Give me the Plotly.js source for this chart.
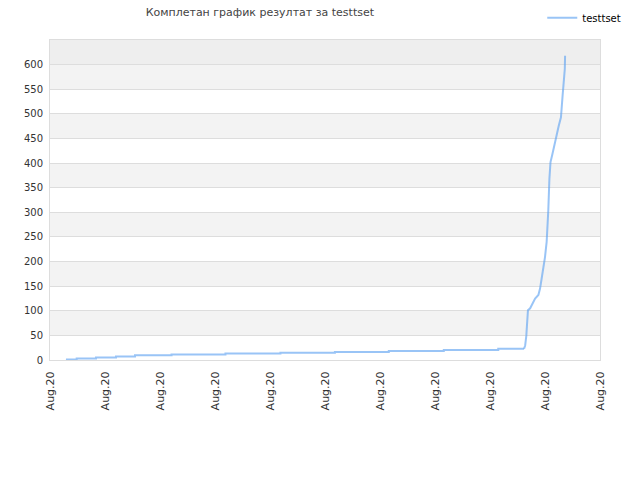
<!DOCTYPE html>
<html>
<head>
<meta charset="utf-8">
<script src="https://cdn.plot.ly/plotly-3.0.1.min.js"></script>
<style>html,body{margin:0;padding:0;background:#fff}#chart{width:640px;height:480px}</style>
</head>
<body>
<div id="chart"></div>
<script>
const seriesName = 'testtset';
const chartTitle = 'Комплетан график резултат за testtset';
const tickLabel = 'Aug.20';
const tickPositions = [0, 10, 20, 30, 40, 50, 60, 70, 80, 90, 100];
const yTicks = [0, 50, 100, 150, 200, 250, 300, 350, 400, 450, 500, 550, 600];

// slow stepwise part
const stepTime = [2.9, 4.85, 8.36, 12, 15.45, 22.1, 31.9, 41.9, 51.8, 61.6, 71.6, 81.5, 86.2];
const stepScore = [1, 3, 5, 7, 9.5, 11, 13, 14.7, 16.5, 18.5, 20.5, 23, 23];
// steep final part
const riseTime = [86.2, 86.4, 86.6, 86.8, 86.9, 87.3, 87.8, 88.2, 88.8, 89.1, 89.4, 89.7, 90.0,
  90.3, 90.5, 90.6, 90.8, 91.0, 91.3, 91.6, 91.9, 92.2, 92.5, 92.9, 93.0, 93.2, 93.4, 93.6, 93.65];
const riseScore = [23, 30, 49, 75, 101, 105, 115, 125, 132, 145, 166, 186, 209,
  240, 270, 304, 368, 402, 416, 432, 446, 459, 476, 493, 514, 537, 564, 591, 618];

const shapes = [];
for (let i = 0; i < 13; i++) {
  const lo = i * 50, hi = lo + 50;
  let fill = null;
  if (i === 12) fill = '#eeeeee';
  else if (i % 2 === 1) fill = '#f3f3f3';
  if (fill) shapes.push({type: 'rect', xref: 'paper', yref: 'y', x0: 0, x1: 1, y0: lo, y1: hi,
    fillcolor: fill, line: {width: 0}, layer: 'below'});
}

const lineStyle = {color: 'rgba(90,160,240,0.62)', width: 2};
const traces = [
  {x: stepTime, y: stepScore, name: seriesName, type: 'scatter', mode: 'lines',
    line: Object.assign({shape: 'hv'}, lineStyle), legendgroup: 'a', showlegend: true},
  {x: riseTime, y: riseScore, name: seriesName, type: 'scatter', mode: 'lines',
    line: Object.assign({shape: 'linear'}, lineStyle), legendgroup: 'a', showlegend: false}
];

const layout = {
  width: 640, height: 480,
  margin: {l: 50, r: 40, t: 40, b: 120, autoexpand: false},
  paper_bgcolor: '#fff', plot_bgcolor: 'rgba(0,0,0,0)',
  font: {family: 'DejaVu Sans, sans-serif', size: 10, color: '#333'},
  title: {text: chartTitle, font: {family: 'DejaVu Sans, sans-serif', size: 11, color: '#444'},
    x: 0.406, xref: 'container', xanchor: 'center', y: 0.975, yref: 'container', yanchor: 'middle'},
  showlegend: true,
  legend: {x: 0.895, y: 1.115, xanchor: 'left', yanchor: 'top', font: {size: 10, color: '#000'},
    bgcolor: 'rgba(0,0,0,0)', itemwidth: 30},
  xaxis: {range: [0, 100], tickvals: tickPositions, ticktext: tickPositions.map(() => tickLabel),
    tickangle: -90, tickfont: {size: 11}, ticklabelstandoff: 6,
    showgrid: false, zeroline: false, showline: true, mirror: true,
    linecolor: '#dddddd', linewidth: 1, ticks: '', fixedrange: true},
  yaxis: {range: [0, 650], tickvals: yTicks, showgrid: true, gridcolor: '#dddddd', gridwidth: 1,
    zeroline: false, showline: true, mirror: true, linecolor: '#dddddd', linewidth: 1, ticks: '',
    ticklabelstandoff: 4, fixedrange: true},
  shapes: shapes
};

Plotly.newPlot('chart', traces, layout, {displayModeBar: false, staticPlot: true});
</script>
</body>
</html>
